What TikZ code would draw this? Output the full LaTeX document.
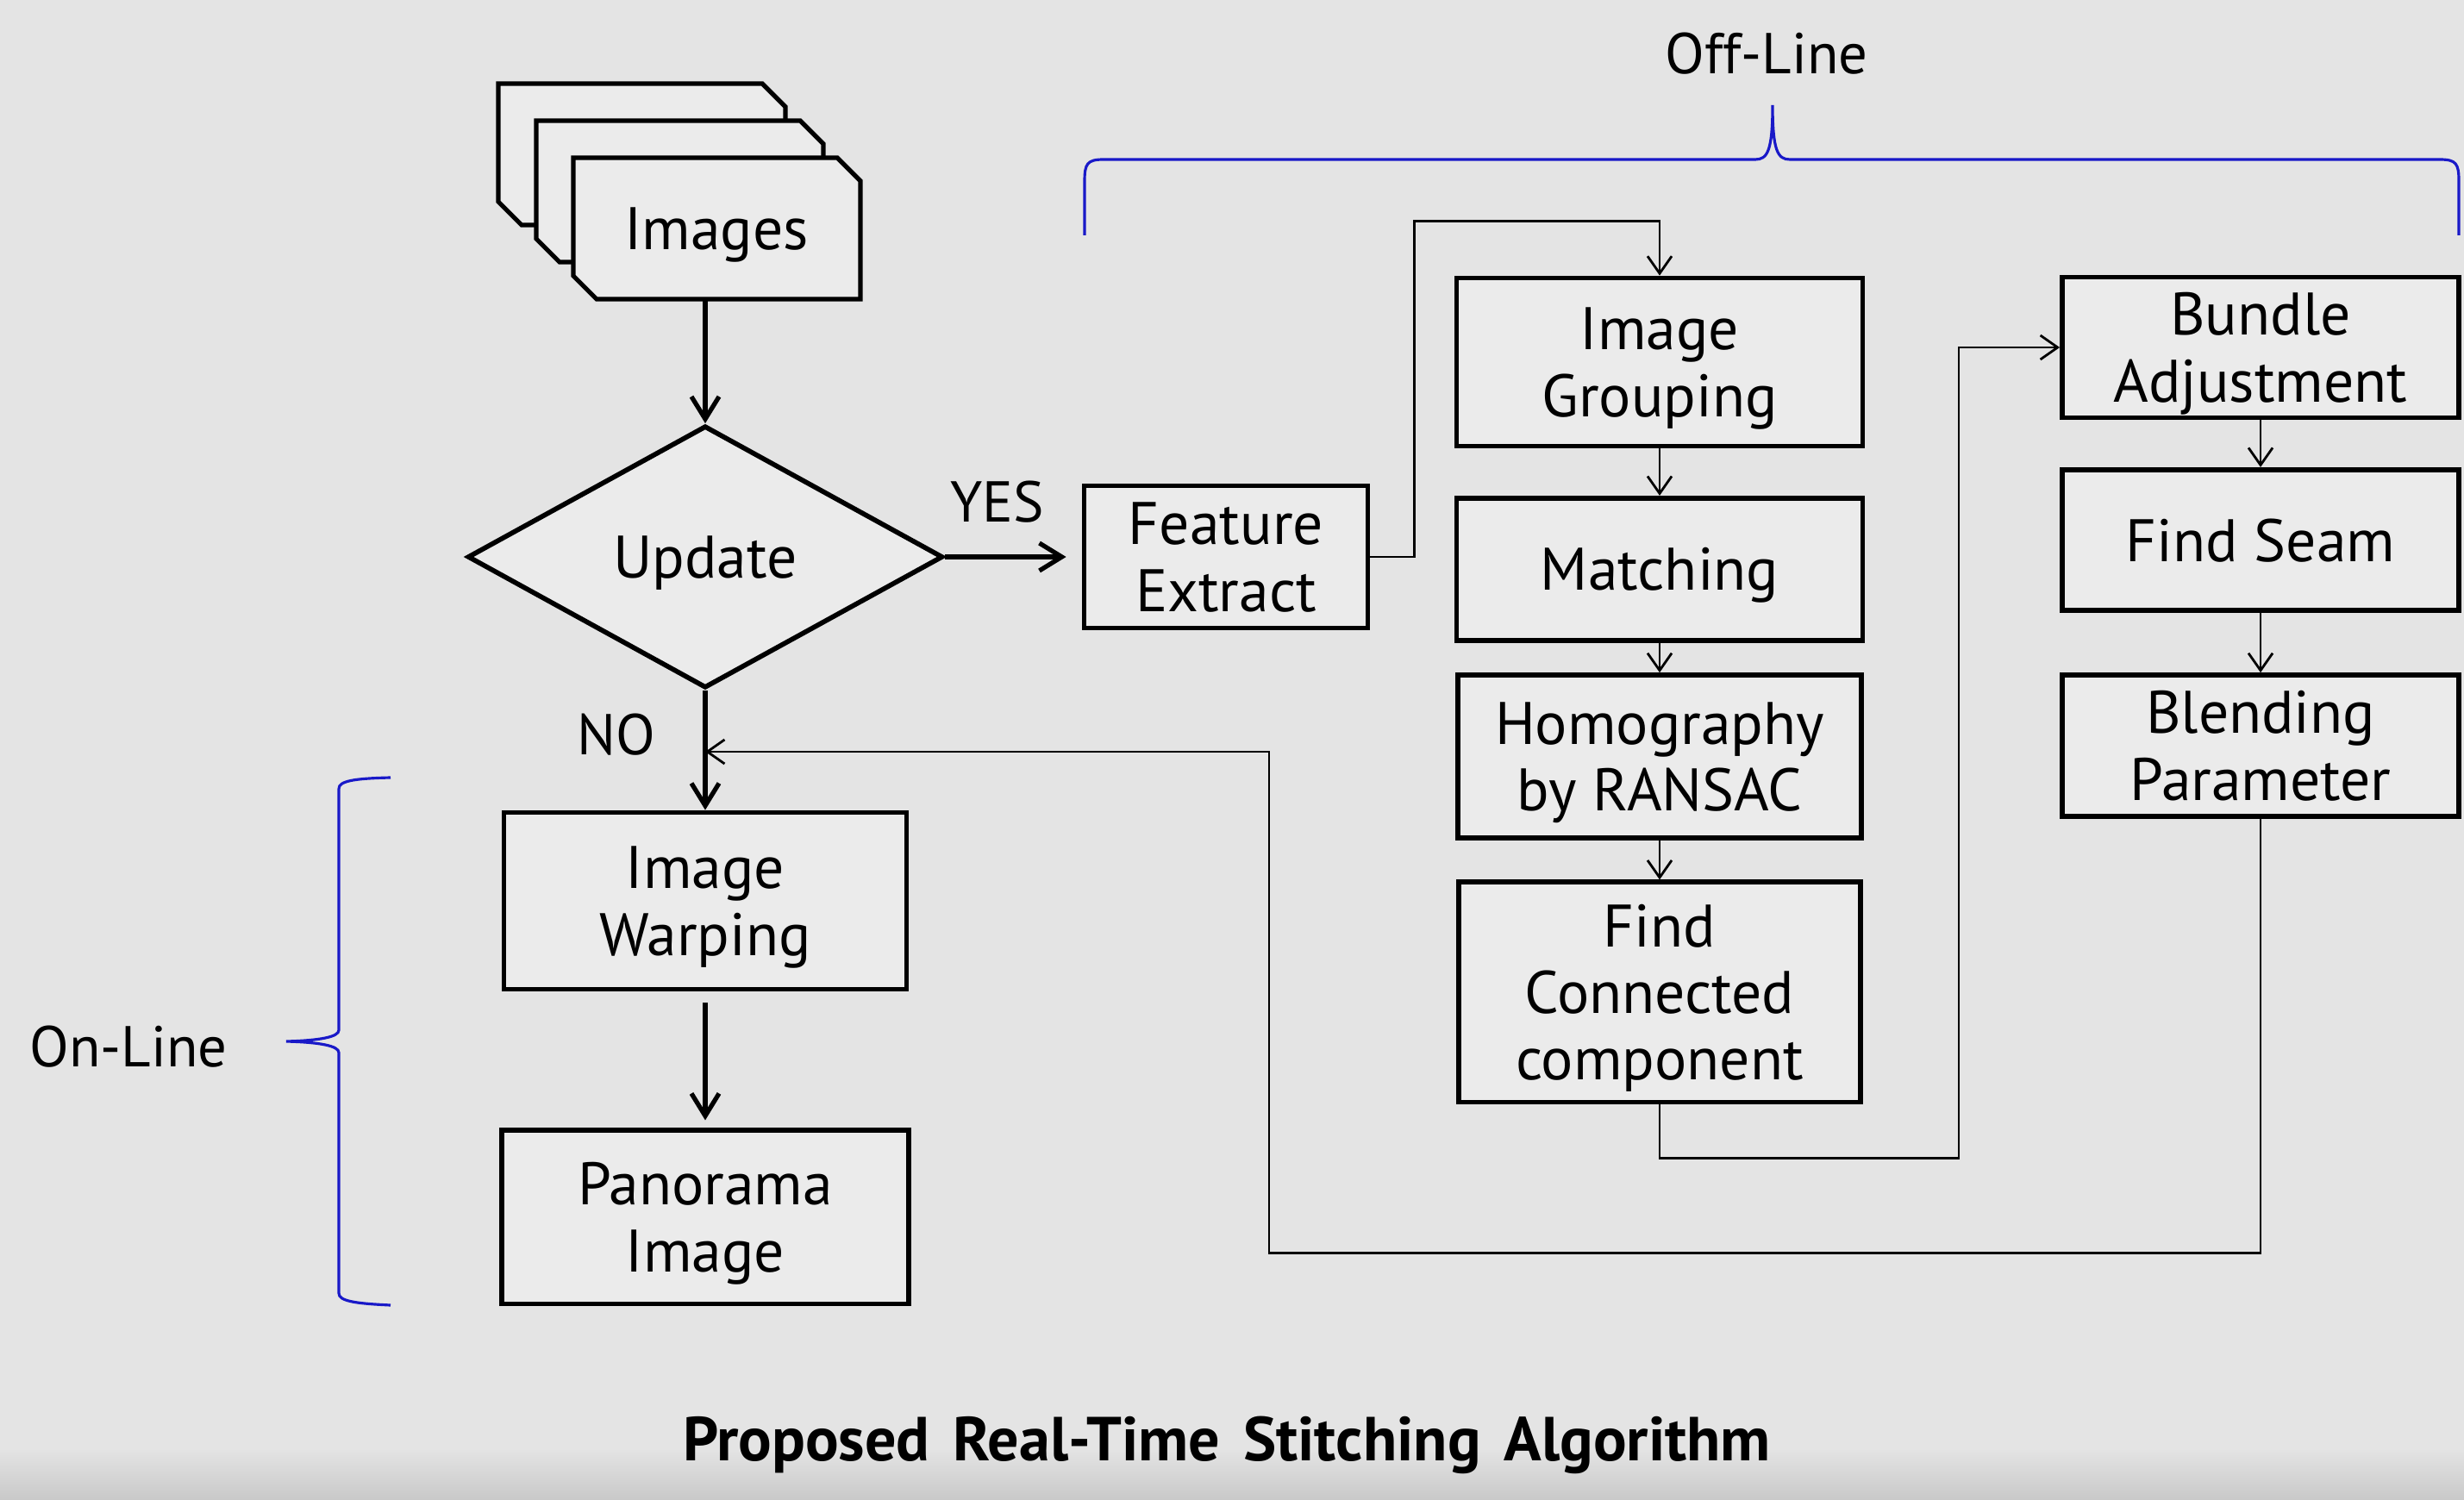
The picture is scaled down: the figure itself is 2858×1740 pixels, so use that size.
\documentclass[tikz,border=0pt]{standalone}
\usepackage{fontspec}
\setmainfont{PT Sans}
\usetikzlibrary{shapes.geometric, arrows.meta, positioning, calc}
\definecolor{bgcol}{HTML}{E4E4E4}
\definecolor{boxcol}{HTML}{EBEBEB}
\definecolor{bracecol}{RGB}{25,25,200}
\tikzset{
  box/.style = {
    rectangle, draw=black, fill=boxcol, line width=1.6pt,
    align=center, inner sep=2pt, text depth=-0.04cm,
    font=\fontsize{19.8}{22}\selectfont
  },
  decision/.style = {
    diamond, draw=black, fill=boxcol, line width=1.6pt,
    aspect=1.8, inner sep=0pt, text depth=-0.04cm,
    font=\fontsize{19.8}{22}\selectfont,
    minimum width=5.51cm, minimum height=3.04cm
  },
  card/.style  = {draw=black, fill=boxcol, line width=1.5pt},
  marr/.style  = {-{Straight Barb[length=2.6mm,width=3.2mm]}, line width=1.5pt},
  tarr/.style  = {-{Straight Barb[length=2mm,width=2.8mm]}, line width=0.8pt},
  brace/.style = {draw=bracecol, line width=0.9pt}
}
% one sheet of the image stack, given its top left corner
\newcommand{\imgcard}[2]{%
  \filldraw[card] (#1,#2) -- ++(306,0) -- ++(27,27) -- ++(0,137)
    -- ++(-306,0) -- ++(-27,-27) -- cycle;}

\begin{document}
\begin{tikzpicture}[
  x=0.01cm, y=-0.01cm,
  every node/.style={font=\fontsize{19}{22}\selectfont}
]

%% background
\fill[bgcol] (0,0) rectangle (2858,1740);
\shade[top color=bgcol, bottom color=bgcol!88!black] (0,1680) rectangle (2858,1740);
\useasboundingbox (0,0) rectangle (2858,1740);

%% Image stack
\imgcard{578}{97}
\imgcard{622}{140}
\imgcard{665}{183}
\node[minimum width=3.33cm, minimum height=1.64cm, text depth=-0.04cm,
      font=\fontsize{19.8}{22}\selectfont] (img) at (831,265) {Images};

%% On-line part
\node[decision] (upd) at (818,646) {Update};
\node[box, minimum width=4.67cm, minimum height=2.05cm] (warp) at (818,1045) {Image\\Warping};
\node[box, minimum width=4.72cm, minimum height=2.01cm,
      below=1.58cm of warp] (pano) {Panorama\\Image};

%% Off-line part
\node[box, minimum width=3.29cm, minimum height=1.65cm] (fe) at (1422,646) {Feature\\Extract};
\node[box, minimum width=4.71cm, minimum height=1.95cm] (ig) at (1925,420) {Image\\Grouping};
\node[box, minimum width=4.71cm, minimum height=1.65cm,
      below=0.545cm of ig]  (mat) {Matching};
\node[box, minimum width=4.68cm, minimum height=1.89cm,
      below=0.345cm of mat] (hom) {Homography\\by RANSAC};
\node[box, minimum width=4.66cm, minimum height=2.55cm,
      below=0.455cm of hom] (fcc) {Find\\Connected\\component};

\node[box, minimum width=4.60cm, minimum height=1.63cm] (ba) at (2622,403) {Bundle\\Adjustment};
\node[box, minimum width=4.60cm, minimum height=1.63cm,
      below=0.545cm of ba] (fs) {Find Seam};
\node[box, minimum width=4.60cm, minimum height=1.64cm,
      below=0.695cm of fs] (bp) {Blending\\Parameter};

%% Labels
\node (offl) at (2049,62) {Off-Line};
\node (onl)  at (149,1214) {On-Line};
\node[font=\bfseries\fontsize{20.5}{24}\selectfont] (ttl) at (1423,1676)
  {Proposed\hspace{0.27cm}Real-Time\hspace{0.27cm}Stitching\hspace{0.27cm}Algorithm};

%% Braces
\draw[brace] (1258,273) -- (1258,210) .. controls (1258,190) and (1261,185) .. (1280,185)
  -- (2036,185) .. controls (2050,185) and (2056,175) .. (2056,122)
  .. controls (2056,175) and (2062,185) .. (2076,185)
  -- (2830,185) .. controls (2849,185) and (2852,190) .. (2852,210) -- (2852,273);
\draw[brace] (453,902) .. controls (410,903) and (393,906) .. (393,915)
  -- (393,1195) .. controls (393,1203) and (370,1207) .. (332,1208)
  .. controls (370,1209) and (393,1213) .. (393,1221)
  -- (393,1500) .. controls (393,1509) and (410,1512) .. (453,1514);

%% Main flow
\draw[marr] (img.south -| upd.north) -- (upd.north);
\draw[marr, shorten >=0.18cm] (upd.east) -- node[pos=0.38, above=0.25cm]{YES} (fe.west);
\draw[marr] (upd.south) -- node[pos=0.37, left=0.43cm]{NO} (warp.north);
\draw[marr, shorten <=0.13cm, shorten >=0.09cm] (warp) -- (pano);

%% Off-line arrows
\draw[tarr] (fe.east) -- ++(0.51cm,0) |- ([yshift=0.63cm]ig.north) -- (ig.north);
\draw[tarr] (ig) -- (mat);
\draw[tarr] (mat) -- (hom);
\draw[tarr] (hom) -- (fcc);
\draw[tarr] (fcc.south) -- ++(0,-0.62cm) -| ([xshift=-1.17cm]ba.west) -- (ba.west);
\draw[tarr] (ba) -- (fs);
\draw[tarr] (fs) -- (bp);

%% Back to the on-line part
\coordinate (retc) at (1472,872);
\coordinate (ret)  at (818,872);
\draw[tarr] (bp.south) -- ++(0,-5.03cm) -| (retc) -- (ret);

\end{tikzpicture}
\end{document}
